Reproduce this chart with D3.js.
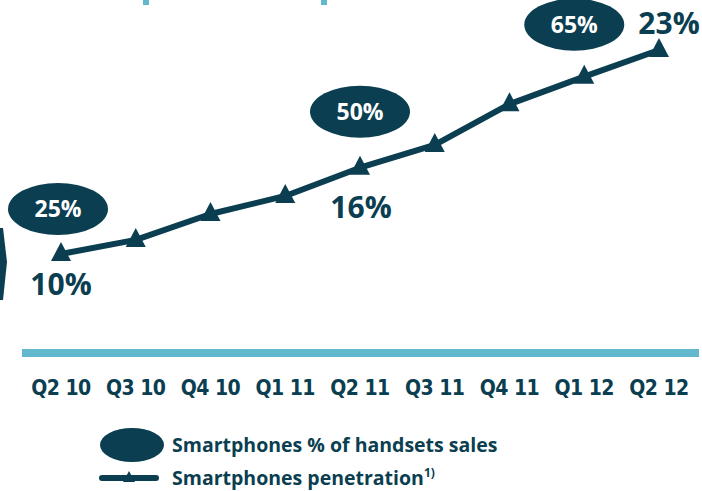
<!DOCTYPE html>
<html>
<head>
<meta charset="utf-8">
<script src="https://cdn.jsdelivr.net/npm/d3@7/dist/d3.min.js"></script>
<style>
  body { margin: 0; background: #fff; }
  svg text { font-family: "Open Sans", sans-serif; font-weight: 700; }
  svg text.tick { font-family: "DejaVu Sans Condensed", "DejaVu Sans", sans-serif; }
</style>
</head>
<body>
<svg id="chart" width="702" height="491"></svg>
<script>
// data
const quarters = ["Q2 10", "Q3 10", "Q4 10", "Q1 11", "Q2 11", "Q3 11", "Q4 11", "Q1 12", "Q2 12"];
const penetration = [10, 10.9, 12.55, 13.7, 15.5, 16.95, 19.55, 21.3, 23];
const penetrationLabels = [
  {q: "Q2 10", text: "10%"},
  {q: "Q2 11", text: "16%"},
  {q: "Q2 12", text: "23%"},
];
const salesShare = [
  {q: "Q2 10", text: "25%"},
  {q: "Q2 11", text: "50%"},
  {q: "Q1 12", text: "65%"},
];

const dark = "#0a3e50";
const light = "#62b8cc";

const svg = d3.select("#chart");

const x = d3.scalePoint().domain(quarters).range([61, 659]);
const y = d3.scaleLinear().domain([10, 23]).range([254, 50]);

// decorations cut off at the edges
svg.append("rect").attr("x", 143).attr("y", 0).attr("width", 6).attr("height", 5).attr("fill", light);
svg.append("rect").attr("x", 321).attr("y", 0).attr("width", 6).attr("height", 5).attr("fill", light);
svg.append("path").attr("d", "M0,228 L3,228 L7,262 L3,300 L0,300 Z").attr("fill", dark);

// base line
svg.append("rect").attr("x", 22).attr("y", 349).attr("width", 677).attr("height", 8).attr("fill", light);

// axis labels
svg.append("g").selectAll("text")
  .data(quarters)
  .join("text")
  .attr("class", "tick")
  .attr("x", d => x(d))
  .attr("y", 395)
  .attr("text-anchor", "middle")
  .attr("font-size", 21)
  .attr("letter-spacing", -0.5)
  .attr("fill", dark)
  .text(d => d);

// penetration line
const line = d3.line().x((d, i) => x(quarters[i])).y(d => y(d));
svg.append("path")
  .datum(penetration)
  .attr("d", line)
  .attr("fill", "none")
  .attr("stroke", dark)
  .attr("stroke-width", 6)
  .attr("stroke-linejoin", "round");

const tri = "M0,-12 L10,7 L-10,7 Z";
svg.append("g").selectAll("path")
  .data(penetration)
  .join("path")
  .attr("transform", (d, i) => `translate(${x(quarters[i])},${y(d)})`)
  .attr("d", tri)
  .attr("fill", dark);

// sales share ellipses
const ellOff = {"Q2 10": [-3, -45], "Q2 11": [0, -56], "Q1 12": [-10, -52]};
const ell = svg.append("g").selectAll("g")
  .data(salesShare)
  .join("g")
  .attr("transform", d => {
    const i = quarters.indexOf(d.q);
    const o = ellOff[d.q];
    return `translate(${x(d.q) + o[0]},${y(penetration[i]) + o[1]})`;
  });
ell.append("ellipse").attr("rx", 50).attr("ry", 26).attr("fill", dark);
ell.append("text")
  .attr("text-anchor", "middle")
  .attr("y", 8)
  .attr("font-size", 23)
  .attr("fill", "#fff")
  .text(d => d.text);

// penetration labels
const labOff = {"Q2 10": [0, 41], "Q2 11": [1, 50], "Q2 12": [10, -16]};
svg.append("g").selectAll("text")
  .data(penetrationLabels)
  .join("text")
  .attr("x", d => x(d.q) + labOff[d.q][0])
  .attr("y", d => y(penetration[quarters.indexOf(d.q)]) + labOff[d.q][1])
  .attr("text-anchor", "middle")
  .attr("font-size", 30)
  .attr("fill", dark)
  .text(d => d.text);

// legend
const lg = svg.append("g");
lg.append("ellipse").attr("cx", 132).attr("cy", 445).attr("rx", 32).attr("ry", 17).attr("fill", dark);
lg.append("text").attr("x", 172).attr("y", 452).attr("font-size", 19.5).attr("fill", dark)
  .text("Smartphones % of handsets sales");
lg.append("line").attr("x1", 102).attr("x2", 156).attr("y1", 478).attr("y2", 478)
  .attr("stroke", dark).attr("stroke-width", 6).attr("stroke-linecap", "round");
lg.append("path").attr("transform", "translate(129,478)").attr("d", "M0,-7 L6,4 L-6,4 Z").attr("fill", dark);
const t2 = lg.append("text").attr("x", 172).attr("y", 485).attr("font-size", 19.5).attr("fill", dark);
t2.append("tspan").text("Smartphones penetration");
t2.append("tspan").attr("font-size", 12).attr("dy", -8).text("1)");
</script>
</body>
</html>
